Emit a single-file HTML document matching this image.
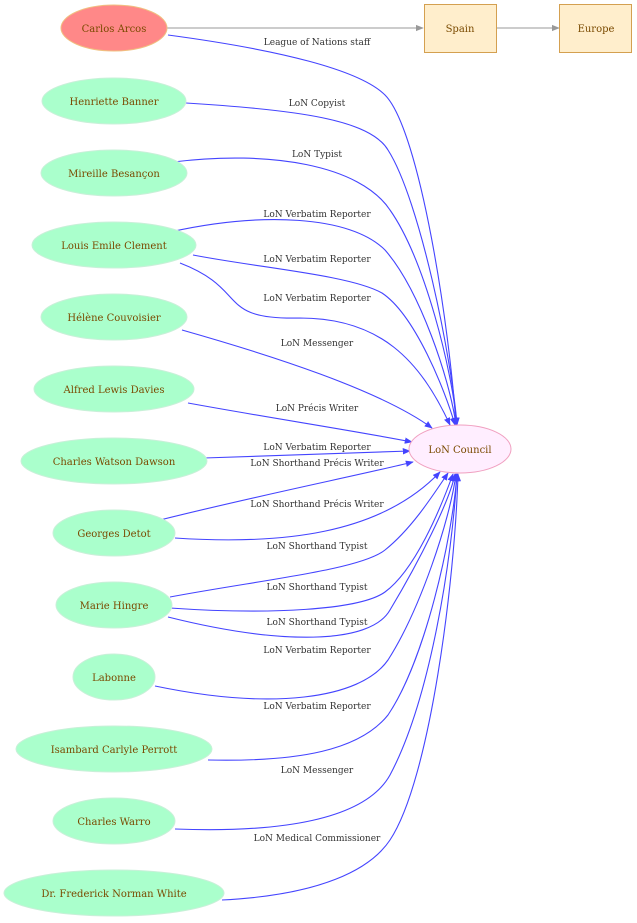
<!DOCTYPE html>
<html><head><meta charset="utf-8"><style>
html,body{margin:0;padding:0;background:#fff;}
svg{display:block;font-family:"DejaVu Serif","Liberation Serif",serif;}
.n{fill:#aaffcc;stroke:#c8f0d8;stroke-width:1}
.t{font-size:10px;fill:#7a4a00;text-anchor:middle}
.l{font-size:9px;fill:#333;text-anchor:middle}
.e{fill:none;stroke:#4444ff;stroke-width:1.1}
</style></head><body>
<svg width="637" height="923" viewBox="0 0 637 923">
<defs>
<marker id="a" viewBox="0 0 10 10" refX="9" refY="5" markerWidth="8" markerHeight="8" markerUnits="userSpaceOnUse" orient="auto"><path d="M0,1L10,5L0,9z" fill="#4444ff"/></marker>
<marker id="g" viewBox="0 0 10 10" refX="9" refY="5" markerWidth="8" markerHeight="8" markerUnits="userSpaceOnUse" orient="auto"><path d="M0,1L10,5L0,9z" fill="#999"/></marker>
</defs>
<line x1="167" y1="28" x2="423" y2="28" stroke="#999" marker-end="url(#g)"/>
<line x1="496" y1="28" x2="559" y2="28" stroke="#999" marker-end="url(#g)"/>
<g marker-end="url(#a)">
<path class="e" d="M168,35 C280,50 360,70 385,95 C420,130 450,330 456,425"/>
<path class="e" d="M186,103 C300,110 370,120 388,150 C420,200 452,360 457,425"/>
<path class="e" d="M173,162 C270,150 360,165 390,210 C425,260 452,370 457,425"/>
<path class="e" d="M170,232 C260,212 350,215 385,250 C420,290 450,380 456,425"/>
<path class="e" d="M193,255 C260,268 350,275 382,293 C415,315 445,390 455,425"/>
<path class="e" d="M180,263 C250,290 215,320 300,318 C380,318 420,360 450,425"/>
<path class="e" d="M182,330 C270,355 380,390 432,428"/>
<path class="e" d="M188,403 C270,418 350,430 412,442"/>
<path class="e" d="M204,458 L410,451"/>
<path class="e" d="M160,520 C260,495 360,475 413,462"/>
<path class="e" d="M175,538 C280,545 380,535 440,472"/>
<path class="e" d="M170,597 C260,580 360,570 385,550 C410,530 430,500 448,473"/>
<path class="e" d="M170,608 C270,615 360,610 385,592 C415,570 440,510 453,474"/>
<path class="e" d="M168,617 C280,645 370,645 390,610 C420,560 450,500 455,474"/>
<path class="e" d="M155,686 C270,710 360,700 388,660 C420,610 450,520 456,474"/>
<path class="e" d="M208,760 C300,762 360,750 388,715 C425,660 452,540 457,474"/>
<path class="e" d="M175,829 C280,833 365,820 390,775 C430,700 452,560 457,474"/>
<path class="e" d="M222,900 C320,895 370,870 390,840 C430,780 455,580 458,474"/>
</g>
<g class="l">
<text x="317" y="45">League of Nations staff</text>
<text x="317" y="106">LoN Copyist</text>
<text x="317" y="157">LoN Typist</text>
<text x="317" y="217">LoN Verbatim Reporter</text>
<text x="317" y="262">LoN Verbatim Reporter</text>
<text x="317" y="301">LoN Verbatim Reporter</text>
<text x="317" y="346">LoN Messenger</text>
<text x="317" y="411">LoN Précis Writer</text>
<text x="317" y="450">LoN Verbatim Reporter</text>
<text x="317" y="466">LoN Shorthand Précis Writer</text>
<text x="317" y="507">LoN Shorthand Précis Writer</text>
<text x="317" y="549">LoN Shorthand Typist</text>
<text x="317" y="590">LoN Shorthand Typist</text>
<text x="317" y="625">LoN Shorthand Typist</text>
<text x="317" y="653">LoN Verbatim Reporter</text>
<text x="317" y="709">LoN Verbatim Reporter</text>
<text x="317" y="773">LoN Messenger</text>
<text x="317" y="841">LoN Medical Commissioner</text>
</g>
<ellipse cx="114" cy="28" rx="53" ry="23" fill="#ff8888" stroke="#f0c080"/>
<text class="t" x="114" y="32">Carlos Arcos</text>
<rect x="424.5" y="4.5" width="72" height="48" fill="#ffeecc" stroke="#d4a050"/>
<text class="t" x="460" y="32">Spain</text>
<rect x="559.5" y="4.5" width="72" height="48" fill="#ffeecc" stroke="#d4a050"/>
<text class="t" x="596" y="32">Europe</text>
<ellipse cx="460" cy="449" rx="51" ry="24" fill="#ffeeff" stroke="#f0a0c0"/>
<text class="t" x="460" y="453">LoN Council</text>
<ellipse class="n" cx="114" cy="101" rx="72" ry="23"/><text class="t" x="114" y="105">Henriette Banner</text>
<ellipse class="n" cx="114" cy="173" rx="73" ry="23"/><text class="t" x="114" y="177">Mireille Besançon</text>
<ellipse class="n" cx="114" cy="245" rx="82" ry="23"/><text class="t" x="114" y="249">Louis Emile Clement</text>
<ellipse class="n" cx="114" cy="317" rx="73" ry="23"/><text class="t" x="114" y="321">Hélène Couvoisier</text>
<ellipse class="n" cx="114" cy="389" rx="80" ry="23"/><text class="t" x="114" y="393">Alfred Lewis Davies</text>
<ellipse class="n" cx="114" cy="461" rx="93" ry="23"/><text class="t" x="114" y="465">Charles Watson Dawson</text>
<ellipse class="n" cx="114" cy="533" rx="61" ry="23"/><text class="t" x="114" y="537">Georges Detot</text>
<ellipse class="n" cx="114" cy="605" rx="58" ry="23"/><text class="t" x="114" y="609">Marie Hingre</text>
<ellipse class="n" cx="114" cy="677" rx="41" ry="23"/><text class="t" x="114" y="681">Labonne</text>
<ellipse class="n" cx="114" cy="749" rx="98" ry="23"/><text class="t" x="114" y="753">Isambard Carlyle  Perrott</text>
<ellipse class="n" cx="114" cy="821" rx="61" ry="23"/><text class="t" x="114" y="825">Charles Warro</text>
<ellipse class="n" cx="114" cy="893" rx="110" ry="23"/><text class="t" x="114" y="897">Dr. Frederick Norman White</text>
</svg>
</body></html>
